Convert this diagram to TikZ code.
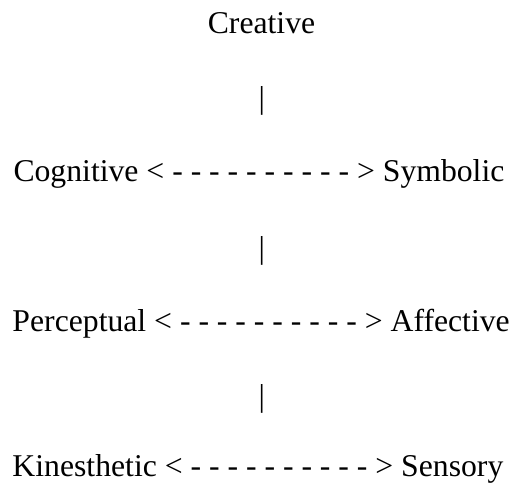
\documentclass[tikz,border=0pt]{standalone}
\usepackage{fontspec}
\setmainfont{Liberation Serif}
\begin{document}
\begin{tikzpicture}[x=1pt,y=1pt,
  txt/.style={inner sep=0pt,outer sep=0pt,font=\fontsize{31.7}{38}\selectfont,text=black}]
\useasboundingbox (0,0) rectangle (514,483);
\node[txt,anchor=base] (creative) at (261.5,449) {Creative};
\node[txt,anchor=base] (bar1) at (261.7,374.5) {|};
\node[txt,anchor=base west] (cog) at (13.5,302) {Cognitive < - - - - - - - - - - > Symbolic};
\node[txt,anchor=base] (bar2) at (261.7,224.5) {|};
\node[txt,anchor=base west] (perc) at (12.5,152) {Perceptual < - - - - - - - - - - > Affective};
\node[txt,anchor=base] (bar3) at (261.7,77) {|};
\node[txt,anchor=base west] (kin) at (12.5,7) {Kinesthetic < - - - - - - - - - - > Sensory};
\end{tikzpicture}
\end{document}
